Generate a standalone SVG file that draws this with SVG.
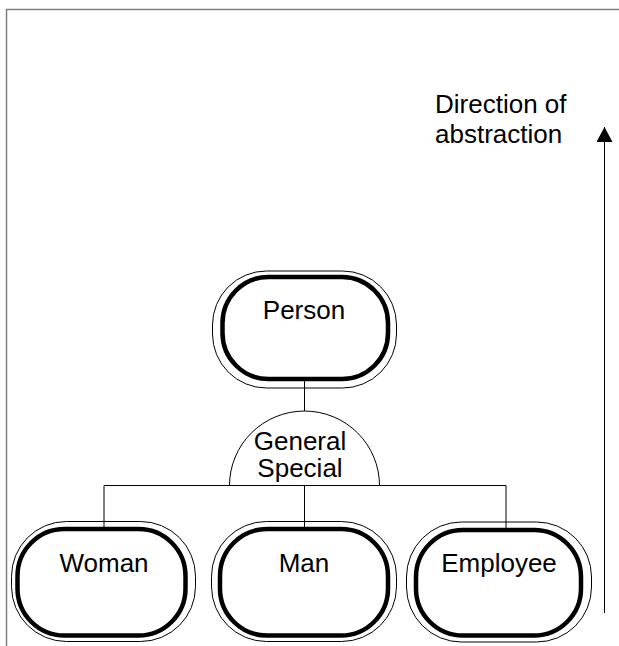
<svg xmlns="http://www.w3.org/2000/svg" width="619" height="646" viewBox="0 0 619 646">
  <defs>
    <style>
      .frame { fill: none; stroke: #808080; stroke-width: 1.5; }
      .outer { fill: none; stroke: #000; stroke-width: 1; }
      .inner { fill: #fff; stroke: #000; stroke-width: 4.5; }
      .line { fill: none; stroke: #000; stroke-width: 1; }
      .label { font-family: "Liberation Sans", Arial, sans-serif; font-size: 26px; fill: #000; }
      .mid { text-anchor: middle; }
    </style>
    <marker id="arrowhead" viewBox="0 0 15 16" refX="15" refY="8" markerWidth="15" markerHeight="16" markerUnits="userSpaceOnUse" orient="auto">
      <path d="M0,0 L15,8 L0,16 Z" fill="#000"/>
    </marker>
  </defs>
  <rect width="619" height="646" fill="#fff"/>

  <!-- page frame -->
  <path class="frame" d="M6.5,646 V9.5 H619"/>

  <!-- connectors -->
  <g id="connectors">
    <line class="line" x1="304.5" y1="381" x2="304.5" y2="411"/>
    <path class="line" d="M229.5,485.5 A75,74.5 0 0 1 379.5,485.5"/>
    <line class="line" x1="104" y1="485.5" x2="506" y2="485.5"/>
    <line class="line" x1="104" y1="485.5" x2="104" y2="527"/>
    <line class="line" x1="304.5" y1="485.5" x2="304.5" y2="527"/>
    <line class="line" x1="506" y1="485.5" x2="506" y2="528"/>
  </g>

  <!-- generalisation / specialisation marker -->
  <g id="gen-spec">
    <text class="label mid" x="300" y="450">General</text>
    <text class="label mid" x="300" y="477">Special</text>
  </g>

  <!-- direction of abstraction -->
  <g id="abstraction-arrow">
    <text class="label" x="435" y="113">Direction of</text>
    <text class="label" x="435" y="143">abstraction</text>
    <line class="line" x1="604.5" y1="613" x2="604.5" y2="127" marker-end="url(#arrowhead)"/>
  </g>

  <g id="person">
    <rect class="outer" x="212.5" y="271" width="184" height="117" rx="54" ry="54"/>
    <rect class="inner" x="222.5" y="277" width="165.5" height="102" rx="46" ry="46"/>
    <text class="label mid" x="304" y="319">Person</text>
  </g>

  <g id="woman">
    <rect class="outer" x="11.5" y="521.5" width="184" height="120" rx="55" ry="55"/>
    <rect class="inner" x="17.5" y="529" width="168" height="106.5" rx="47" ry="47"/>
    <text class="label mid" x="104" y="572">Woman</text>
  </g>

  <g id="man">
    <rect class="outer" x="211.5" y="521.5" width="185" height="120" rx="55" ry="55"/>
    <rect class="inner" x="220" y="529" width="168" height="106.5" rx="47" ry="47"/>
    <text class="label mid" x="304" y="572">Man</text>
  </g>

  <g id="employee">
    <rect class="outer" x="406.5" y="522" width="185" height="120" rx="55" ry="55"/>
    <rect class="inner" x="416" y="530" width="165" height="105.5" rx="47" ry="47"/>
    <text class="label mid" x="499" y="572">Employee</text>
  </g>
</svg>
